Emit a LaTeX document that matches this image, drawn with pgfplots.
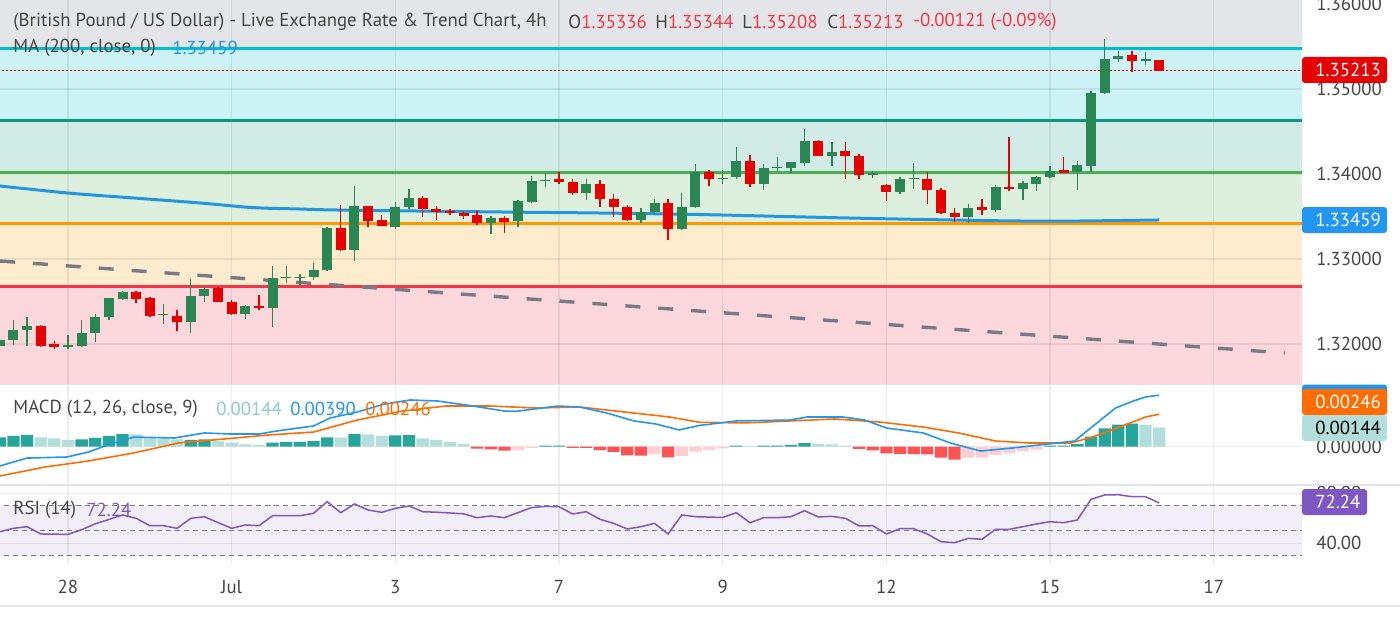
\documentclass[border=0pt]{standalone}
\usepackage{pgfplots}
\pgfplotsset{compat=1.18}
\usepackage{pgfplotstable}
\usepackage{fontspec}
\setmainfont{PT Sans}
\definecolor{txt}{HTML}{454545}
\definecolor{redt}{HTML}{F23645}
\definecolor{upc}{HTML}{2A8754}
\definecolor{dnc}{HTML}{E60000}
\definecolor{zgray}{HTML}{E4E5E8}
\definecolor{zcyan}{HTML}{CCF2F6}
\definecolor{zteal}{HTML}{D1ECE6}
\definecolor{zgreen}{HTML}{DDF0DE}
\definecolor{zorange}{HTML}{FFECCF}
\definecolor{zpink}{HTML}{FCD8DC}
\definecolor{lcyan}{HTML}{00BCD4}
\definecolor{lteal}{HTML}{089981}
\definecolor{lgreen}{HTML}{4CAF50}
\definecolor{lorange}{HTML}{FF9800}
\definecolor{lred}{HTML}{F23645}
\definecolor{mablue}{HTML}{2596DE}
\definecolor{trendc}{HTML}{787B86}
\definecolor{macdb}{HTML}{2196F3}
\definecolor{macdo}{HTML}{FF6D00}
\definecolor{hdark}{HTML}{26A69A}
\definecolor{hlight}{HTML}{B2DFDB}
\definecolor{hred}{HTML}{FF5252}
\definecolor{hpink}{HTML}{FFCDD2}
\definecolor{rsic}{HTML}{7E57C2}
\definecolor{rsifill}{HTML}{F1EEF8}
\definecolor{sepc}{HTML}{E0E3EB}
\newcommand\lab{\fontsize{9.4pt}{11pt}\selectfont}

\pgfplotstableread{
i O H L C
-5 1.31976 1.32059 1.31965 1.32047
-4 1.32047 1.32282 1.31988 1.32165
-3 1.32165 1.32318 1.31976 1.32212
0 1.31965 1.32106 1.31941 1.31988
1 1.31976 1.32282 1.31965 1.32129
2 1.32129 1.32353 1.32024 1.32318
3 1.32318 1.32541 1.32282 1.32541
4 1.32529 1.32624 1.32518 1.32612
7 1.32341 1.32471 1.32235 1.32353
9 1.32259 1.32765 1.32129 1.32565
10 1.32565 1.32659 1.32494 1.32647
13 1.32353 1.32459 1.32294 1.32447
15 1.32424 1.32918 1.32200 1.32776
16 1.32776 1.32918 1.32718 1.32788
17 1.32776 1.32824 1.32694 1.32788
18 1.32788 1.32953 1.32753 1.32871
19 1.32871 1.33376 1.32859 1.33365
21 1.33106 1.33859 1.32976 1.33624
24 1.33376 1.33671 1.33353 1.33612
25 1.33612 1.33824 1.33588 1.33718
31 1.33424 1.33506 1.33294 1.33482
33 1.33447 1.33694 1.33376 1.33682
34 1.33671 1.33976 1.33659 1.33918
35 1.33918 1.34012 1.33847 1.33929
38 1.33776 1.33941 1.33694 1.33882
42 1.33459 1.33600 1.33424 1.33553
43 1.33553 1.33706 1.33518 1.33659
45 1.33353 1.33776 1.33341 1.33612
46 1.33612 1.34118 1.33600 1.34024
48 1.33941 1.34047 1.33882 1.33953
49 1.33965 1.34318 1.33941 1.34153
51 1.33882 1.34118 1.33812 1.34071
52 1.34071 1.34200 1.34024 1.34082
53 1.34071 1.34141 1.34012 1.34141
54 1.34129 1.34529 1.34094 1.34388
56 1.34212 1.34376 1.34094 1.34259
59 1.33988 1.34035 1.33953 1.34012
61 1.33788 1.33965 1.33765 1.33941
62 1.33941 1.34129 1.33824 1.33953
66 1.33494 1.33647 1.33424 1.33600
68 1.33576 1.33871 1.33553 1.33847
70 1.33824 1.33918 1.33694 1.33894
71 1.33882 1.33976 1.33800 1.33965
72 1.33965 1.34094 1.33953 1.34035
74 1.34024 1.34153 1.33812 1.34106
75 1.34094 1.34976 1.34024 1.34953
76 1.34953 1.35588 1.34941 1.35353
77 1.35353 1.35447 1.35318 1.35388
79 1.35335 1.35435 1.35282 1.35347
}\upT

\pgfplotstableread{
i O H L C
-2 1.32212 1.32224 1.31965 1.31976
-1 1.32000 1.32035 1.31941 1.31965
5 1.32612 1.32624 1.32482 1.32529
6 1.32541 1.32553 1.32318 1.32329
8 1.32329 1.32400 1.32153 1.32259
11 1.32659 1.32671 1.32494 1.32494
12 1.32494 1.32518 1.32341 1.32353
14 1.32447 1.32576 1.32400 1.32424
20 1.33365 1.33635 1.33094 1.33106
22 1.33624 1.33624 1.33376 1.33447
23 1.33459 1.33518 1.33388 1.33388
26 1.33718 1.33741 1.33494 1.33588
27 1.33588 1.33624 1.33459 1.33553
28 1.33565 1.33588 1.33518 1.33541
29 1.33541 1.33565 1.33471 1.33506
30 1.33518 1.33565 1.33400 1.33424
32 1.33482 1.33506 1.33306 1.33435
36 1.33941 1.34024 1.33882 1.33906
37 1.33906 1.33941 1.33753 1.33776
39 1.33882 1.33929 1.33612 1.33706
40 1.33706 1.33765 1.33494 1.33612
41 1.33612 1.33635 1.33447 1.33459
44 1.33659 1.33706 1.33224 1.33353
47 1.34024 1.34047 1.33859 1.33941
50 1.34153 1.34224 1.33847 1.33882
55 1.34388 1.34400 1.34212 1.34212
57 1.34271 1.34376 1.33941 1.34212
58 1.34212 1.34235 1.33941 1.33988
60 1.33871 1.33882 1.33682 1.33788
63 1.33941 1.34024 1.33647 1.33812
64 1.33812 1.33835 1.33529 1.33541
65 1.33541 1.33600 1.33435 1.33494
67 1.33612 1.33706 1.33518 1.33576
69 1.33847 1.34435 1.33800 1.33824
73 1.34047 1.34200 1.34012 1.34012
78 1.35400 1.35447 1.35200 1.35329
80 1.35336 1.35344 1.35208 1.35213
}\dnT

\pgfplotsset{
  panel/.style={scale only axis, width=651pt, xmin=-4.985, xmax=90.47,
    axis line style={draw=none}, major tick length=0pt, xtick=\empty,
    scaled ticks=false,
    tick label style={font=\lab, text=txt}, clip=true},
  gridl/.style={black, opacity=0.07, line width=0.6pt},
  candle/.style 2 args={draw=none, mark=none, error bars/.cd, y dir=plus, y explicit,
    error mark=none, error bar style={draw=#1, line width=#2, opacity=1}},
}

\begin{document}
\begin{tikzpicture}[x=0.5pt,y=-0.5pt]
\fill[white] (0,0) rectangle (1400,626);
\useasboundingbox (0,0) rectangle (1400,626);

% ---------------- PRICE PANEL ----------------
\begin{axis}[panel, at={(0pt,0pt)}, anchor=north west, height=191.5pt,
  ymin=1.31541, ymax=1.36047,
  ytick={1.32,1.33,1.34,1.35,1.36},
  yticklabels={1.32000,1.33000,1.34000,1.35000,1.36000},
  yticklabel pos=right,
  yticklabel style={anchor=west, xshift=3.6pt}]
% zones
\addplot[draw=none, fill=zgray] coordinates {(-6,1.35482) (92,1.35482) (92,1.37) (-6,1.37)};
\addplot[draw=none, fill=zcyan] coordinates {(-6,1.34624) (92,1.34624) (92,1.35482) (-6,1.35482)};
\addplot[draw=none, fill=zteal] coordinates {(-6,1.34013) (92,1.34013) (92,1.34624) (-6,1.34624)};
\addplot[draw=none, fill=zgreen] coordinates {(-6,1.33412) (92,1.33412) (92,1.34013) (-6,1.34013)};
\addplot[draw=none, fill=zorange] coordinates {(-6,1.32671) (92,1.32671) (92,1.33412) (-6,1.33412)};
\addplot[draw=none, fill=zpink] coordinates {(-6,1.31) (92,1.31) (92,1.32671) (-6,1.32671)};
% grid
\pgfplotsinvokeforeach{0,12,24,36,48,60,72,84}{\addplot[gridl] coordinates {(#1,1.31) (#1,1.37)};}
\pgfplotsinvokeforeach{1.32,1.33,1.34,1.35}{\addplot[gridl] coordinates {(-6,#1) (92,#1)};}
% fib lines
\addplot[lcyan, line width=1.5pt] coordinates {(-6,1.35482) (92,1.35482)};
\addplot[lteal, line width=1.5pt] coordinates {(-6,1.34624) (92,1.34624)};
\addplot[lgreen, line width=1.5pt] coordinates {(-6,1.34013) (92,1.34013)};
\addplot[lorange, line width=1.5pt] coordinates {(-6,1.33412) (92,1.33412)};
\addplot[lred, line width=1.5pt] coordinates {(-6,1.32671) (92,1.32671)};
% current price dotted line
\addplot[dnc, line width=0.6pt, dash pattern=on 0.7pt off 1.3pt] coordinates {(-6,1.35213) (92,1.35213)};
% trend line
\addplot[trendc, line width=1.7pt, dash pattern=on 7.5pt off 9pt] coordinates {(-4.99,1.32976) (89.2,1.31894)};
% MA 200
\addplot[mablue, line width=1.5pt, smooth] coordinates {(-4.99,1.33859) (0,1.33776) (4.77,1.33718) (9.68,1.33659) (13.5,1.33605) (17,1.33588) (19.9,1.33576) (31.7,1.33553) (39,1.33541) (46.3,1.33523) (57.3,1.33482) (64.7,1.33459) (69.8,1.33447) (74.2,1.33447) (80,1.33459)};
% candles: wicks
\addplot[candle={upc}{0.7pt}] table[x=i, y=L, y error plus expr={\thisrow{H}-\thisrow{L}}] {\upT};
\addplot[candle={dnc}{0.7pt}] table[x=i, y=L, y error plus expr={\thisrow{H}-\thisrow{L}}] {\dnT};
% candles: bodies
\addplot[candle={upc}{5pt}] table[x=i, y=O, y error plus expr={max(\thisrow{C}-\thisrow{O},0.00012)}] {\upT};
\addplot[candle={dnc}{5pt}] table[x=i, y=C, y error plus expr={max(\thisrow{O}-\thisrow{C},0.00012)}] {\dnT};
\end{axis}

% ---------------- MACD PANEL ----------------
\begin{axis}[panel, at={(0pt,-192.5pt)}, anchor=north west, height=50.5pt,
  ymin=-0.002977, ymax=0.004674,
  ytick={0}, yticklabels={0.00000}, yticklabel pos=right,
  yticklabel style={anchor=west, xshift=3.6pt}]
\pgfplotsinvokeforeach{0,12,24,36,48,60,72,84}{\addplot[gridl] coordinates {(#1,-0.01) (#1,0.01)};}
\addplot[gridl] coordinates {(-6,0) (92,0)};
\addplot[ybar, bar width=0.9, bar shift=0pt, fill=hdark, draw=none] coordinates {
(-5,0.00070) (-4,0.00083) (-3,0.00089) (1,0.00055) (2,0.00066) (3,0.00083) (4,0.00096)
(9,0.00051) (10,0.00055) (15,0.00030) (16,0.00036) (17,0.00036) (18,0.00043) (19,0.00070)
(21,0.00096) (24,0.00086) (25,0.00088) (35,0.00008) (36,0.00008) (49,0.00008) (51,0.00008)
(52,0.00008) (53,0.00013) (54,0.00028) (72,0.00008) (73,0.00008) (74,0.00020) (75,0.00076)
(76,0.00139) (77,0.00167) (78,0.00174)};
\addplot[ybar, bar width=0.9, bar shift=0pt, fill=hlight, draw=none] coordinates {
(-2,0.00070) (-1,0.00063) (0,0.00051) (5,0.00094) (6,0.00070) (7,0.00063) (8,0.00055)
(11,0.00043) (12,0.00030) (13,0.00017) (14,0.00013) (20,0.00068) (22,0.00094) (23,0.00081)
(26,0.00063) (27,0.00051) (28,0.00036) (29,0.00020) (50,0.00006) (55,0.00020) (56,0.00017)
(57,0.00008) (79,0.00167) (80,0.00144)};
\addplot[ybar, bar width=0.9, bar shift=0pt, fill=hred, draw=none] coordinates {
(30,-0.00015) (31,-0.00020) (32,-0.00030) (37,-0.00008) (38,-0.00008) (39,-0.00025)
(40,-0.00040) (41,-0.00066) (42,-0.00068) (44,-0.00081) (58,-0.00017) (59,-0.00028)
(60,-0.00051) (61,-0.00055) (62,-0.00056) (63,-0.00058) (64,-0.00083) (65,-0.00098)};
\addplot[ybar, bar width=0.9, bar shift=0pt, fill=hpink, draw=none] coordinates {
(33,-0.00025) (34,-0.00008) (43,-0.00055) (45,-0.00070) (46,-0.00038) (47,-0.00025)
(48,-0.00013) (66,-0.00083) (67,-0.00083) (68,-0.00061) (69,-0.00048) (70,-0.00036) (71,-0.00023)};
\addplot[macdo, line width=0.8pt] coordinates {
(-5.0,-0.00222) (-1.7,-0.00154) (1.5,-0.00108) (4.8,-0.00048) (8.1,0.00028) (11.4,0.00058)
(14.7,0.00089) (18.0,0.00111) (21.2,0.00202) (24.5,0.00270) (27.7,0.00308) (31.0,0.00308)
(34.3,0.00293) (37.5,0.00301) (40.8,0.00263) (44.1,0.00225) (46.3,0.00185) (49.6,0.00180)
(52.9,0.00195) (56.2,0.00210) (59.5,0.00187) (62.7,0.00149) (65.3,0.00104) (68.0,0.00043)
(70.5,0.00028) (73.5,0.00028) (75.1,0.00073) (77.1,0.00149) (79.0,0.00225) (80.0,0.00246)};
\addplot[macdb, line width=0.8pt] coordinates {
(-5.0,-0.00146) (-3.0,-0.00086) (-0.07,-0.00078) (1.5,-0.00040) (2.9,0.00013) (4.8,0.00073)
(7.8,0.00066) (10.0,0.00104) (12.0,0.00096) (14.0,0.00096) (15.3,0.00119) (18.0,0.00157)
(19.2,0.00217) (21.2,0.00263) (23.2,0.00323) (25.1,0.00354) (27.1,0.00346) (29.7,0.00308)
(32.0,0.00270) (33.0,0.00270) (35.9,0.00308) (37.5,0.00301) (39.5,0.00255) (41.5,0.00195)
(43.1,0.00172) (44.8,0.00127) (46.3,0.00161) (49.0,0.00195) (52.9,0.00202) (54.2,0.00225)
(56.8,0.00225) (58.4,0.00202) (60.0,0.00142) (62.7,0.00104) (64.7,0.00028) (66.9,-0.00033)
(69.2,-0.00010) (71.2,0.00013) (73.8,0.00043) (74.8,0.00127) (76.8,0.00293) (78.1,0.00346)
(79.0,0.00377) (80.0,0.00390)};
\end{axis}

% ---------------- RSI PANEL ----------------
\begin{axis}[panel, at={(0pt,-243.5pt)}, anchor=north west, height=38pt,
  ymin=24.16, ymax=84.96,
  ytick={40,80}, yticklabels={40.00,80.00}, yticklabel pos=right,
  yticklabel style={anchor=west, xshift=3.6pt},
  xtick={0,12,24,36,48,60,72,84}, xticklabels={28,Jul,3,7,9,12,15,17},
  xticklabel style={anchor=center, yshift=-12pt}]
\addplot[draw=none, fill=rsifill] coordinates {(-6,30) (92,30) (92,70) (-6,70)};
\pgfplotsinvokeforeach{0,12,24,36,48,60,72,84}{\addplot[gridl] coordinates {(#1,0) (#1,100)};}
\addplot[gridl] coordinates {(-6,40) (92,40)};
\addplot[gridl] coordinates {(-6,80) (92,80)};
\pgfplotsinvokeforeach{30,50,70}{\addplot[trendc, line width=0.6pt, dash pattern=on 2.5pt off 2pt] coordinates {(-6,#1) (92,#1)};}
\addplot[rsic, line width=0.75pt] coordinates {
(-5,49.2) (-4,51.9) (-3,53.2) (-2,47.4) (-1,47.2) (0,47.1) (1,50.8) (2,55.5) (3,59.0) (4,62.6)
(5,59.9) (6,54.0) (7,54.0) (8,51.9) (9,59.9) (10,61.2) (11,56.5) (12,51.9) (13,54.6) (14,54.0)
(15,62.0) (16,62.0) (17,62.0) (18,63.9) (19,73.2) (20,64.4) (21,71.4) (22,66.6) (23,64.7) (24,67.9)
(25,69.8) (26,65.2) (27,64.8) (28,64.2) (29,63.5) (30,60.4) (31,61.8) (32,60.4) (33,64.5) (34,68.5)
(35,69.5) (36,69.2) (37,63.4) (38,65.2) (39,59.1) (40,55.9) (41,51.4) (42,53.2) (43,55.9) (44,47.4)
(45,62.6) (46,61.2) (47,60.9) (48,60.6) (49,64.4) (50,56.4) (51,60.4) (52,60.4) (53,61.2) (54,66.0)
(55,61.0) (56,61.5) (57,59.9) (58,53.8) (59,54.0) (60,47.4) (61,51.6) (62,51.6) (63,47.4) (64,41.2)
(65,40.4) (66,43.9) (67,43.1) (68,51.1) (69,51.1) (70,53.2) (71,55.4) (72,57.2) (73,56.4) (74,58.6)
(75,75.1) (76,78.6) (77,78.8) (78,77.2) (79,77.2) (80,72.24)};
\end{axis}

% ---------------- separators & labels ----------------
\fill[white] (1302,470) rectangle (1400,484.5);
\draw[sepc, line width=0.6pt] (0,384.5) -- (1302,384.5);
\draw[sepc, line width=1pt] (0,485) -- (1400,485);
\draw[sepc, line width=0.8pt] (0,606) -- (1400,606);

% price label boxes
\fill[dnc, rounded corners=1.5pt] (1302,57) rectangle (1387,83);
\node[anchor=west, inner sep=0, text=white, font=\lab] at (1315,70) {1.35213};
\fill[macdb, rounded corners=1.5pt] (1302,207) rectangle (1387,233);
\node[anchor=west, inner sep=0, text=white, font=\lab] at (1315,220) {1.33459};
% MACD boxes
\fill[macdb, rounded corners=1.5pt] (1302,384.5) rectangle (1387,400);
\fill[macdo, rounded corners=1.5pt] (1302,389) rectangle (1387,415);
\node[anchor=west, inner sep=0, text=white, font=\lab] at (1315,402) {0.00246};
\fill[hlight, rounded corners=1.5pt] (1302,415) rectangle (1387,441);
\node[anchor=west, inner sep=0, text=black, font=\lab] at (1315,428) {0.00144};
% RSI box
\fill[rsic, rounded corners=1.5pt] (1302,489) rectangle (1367,515);
\node[anchor=west, inner sep=0, text=white, font=\lab] at (1315,502) {72.24};

% title & legends
\node[anchor=west, inner sep=0, text=txt, font=\lab] at (13,22) {(British Pound / US Dollar) - Live Exchange Rate \& Trend Chart, 4h};
\node[anchor=west, inner sep=0, font=\lab] at (568,22) {\textcolor{txt}{O}\textcolor{redt}{1.35336}};
\node[anchor=west, inner sep=0, font=\lab] at (655,22) {\textcolor{txt}{H}\textcolor{redt}{1.35344}};
\node[anchor=west, inner sep=0, font=\lab] at (742,22) {\textcolor{txt}{L}\textcolor{redt}{1.35208}};
\node[anchor=west, inner sep=0, font=\lab] at (827,22) {\textcolor{txt}{C}\textcolor{redt}{1.35213}};
\node[anchor=west, inner sep=0, text=redt, font=\lab] at (913,22) {-0.00121 (-0.09\%)};
\node[anchor=west, inner sep=0, text=txt, font=\lab] at (13,48) {MA (200, close, 0)};
\node[anchor=west, inner sep=0, text=macdb, font=\lab] at (172,48) {1.33459};
\node[anchor=west, inner sep=0, text=txt, font=\lab] at (13,409) {MACD (12, 26, close, 9)};
\node[anchor=west, inner sep=0, text=hlight!80!teal, font=\lab] at (216,409) {0.00144};
\node[anchor=west, inner sep=0, text=macdb, font=\lab] at (290,409) {0.00390};
\node[anchor=west, inner sep=0, text=macdo, font=\lab] at (365,409) {0.00246};
\node[anchor=west, inner sep=0, text=txt, font=\lab] at (13,510) {RSI (14)};
\node[anchor=west, inner sep=0, text=rsic, font=\lab] at (86,510) {72.24};
\end{tikzpicture}
\end{document}
